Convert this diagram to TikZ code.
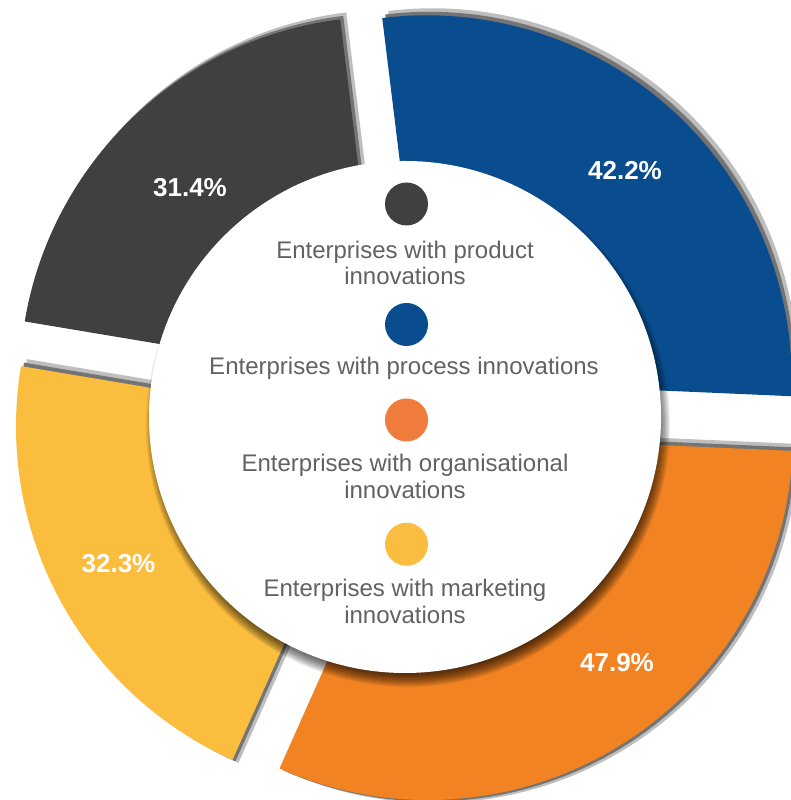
\documentclass[tikz,border=0pt]{standalone}
\usepackage{fontspec}
\setmainfont{Liberation Sans}
\definecolor{cdark}{HTML}{404040}
\definecolor{cblue}{HTML}{0A4D8F}
\definecolor{corange}{HTML}{F28322}
\definecolor{cyellow}{HTML}{FABD3E}
\definecolor{lorange}{HTML}{EF7B3D}
\definecolor{lyellow}{HTML}{FBBD3F}
\definecolor{ltext}{HTML}{626262}
\definecolor{rimlight}{HTML}{BEBEBE}
\definecolor{rimdark}{HTML}{747474}
\newcommand{\donutseg}[5]{%
  \fill[#5] ([shift={(#1,#2)}]#3:365) arc[start angle=#3, end angle=#4, radius=365]
    -- ([shift={(#1,#2)}]#4:200) arc[start angle=#4, end angle=#3, radius=200] -- cycle;}
\tikzset{
  pct/.style={text=white, font=\bfseries\fontsize{26}{30}\selectfont, anchor=base, inner sep=0pt},
  legdot/.style={circle, inner sep=0pt, minimum size=43pt},
  legtext/.style={text=ltext, font=\fontsize{24}{26.5}\selectfont, align=center, anchor=base, inner sep=0pt}
}
\begin{document}
\begin{tikzpicture}[x=1pt,y=1pt]
\useasboundingbox (0,0) rectangle (791,800);
% dark segment (product)
\donutseg{384.7+6}{418.3+7}{97}{170.5}{rimlight}
\donutseg{384.7+3}{418.3+3.5}{97}{170.5}{rimdark}
\donutseg{384.7}{418.3}{97}{170.5}{cdark}
% blue segment (process)
\donutseg{426.7+6}{419.7+7}{-2.5}{97}{rimlight}
\donutseg{426.7+3}{419.7+3.5}{-2.5}{97}{rimdark}
\donutseg{426.7}{419.7}{-2.5}{97}{cblue}
% orange segment (organisational)
\donutseg{428+6}{365+7}{-114}{-2.5}{rimlight}
\donutseg{428+6}{365-3}{-114}{-2.5}{rimlight}
\donutseg{428+3}{365+3.5}{-114}{-2.5}{rimdark}
\donutseg{428+3}{365-1.5}{-114}{-2.5}{rimdark}
\donutseg{428}{365}{-114}{-2.5}{corange}
% yellow segment (marketing)
\donutseg{381+6}{373.6+7}{170.5}{246}{rimlight}
\donutseg{381+6}{373.6-3}{170.5}{246}{rimlight}
\donutseg{381+3}{373.6+3.5}{170.5}{246}{rimdark}
\donutseg{381+3}{373.6-1.5}{170.5}{246}{rimdark}
\donutseg{381}{373.6}{170.5}{246}{cyellow}
% shadow of the centre disc
\foreach \k in {248,...,262}{\fill[black,opacity=0.065] (408,375) circle[radius=\k];}
% centre disc
\fill[white] (405,383) circle[radius=256];
% percentage labels
\node[pct] (p1) at (190,603) {31.4\%};
\node[pct] (p2) at (625,620) {42.2\%};
\node[pct] (p3) at (617,128) {47.9\%};
\node[pct] (p4) at (118.5,227) {32.3\%};
% legend (base anchor = baseline of the last line)
\node[legdot, fill=cdark] (d1) at (406.5,596) {};
\node[legtext] (t1) at (405,515) {Enterprises with product\\innovations};
\node[legdot, fill=cblue] (d2) at (406.5,475.5) {};
\node[legtext] (t2) at (404,425.7) {Enterprises with process innovations};
\node[legdot, fill=lorange] (d3) at (406.5,380) {};
\node[legtext] (t3) at (405,301.7) {Enterprises with organisational\\innovations};
\node[legdot, fill=lyellow] (d4) at (406.5,255.7) {};
\node[legtext] (t4) at (405,176.7) {Enterprises with marketing\\innovations};
\end{tikzpicture}
\end{document}
